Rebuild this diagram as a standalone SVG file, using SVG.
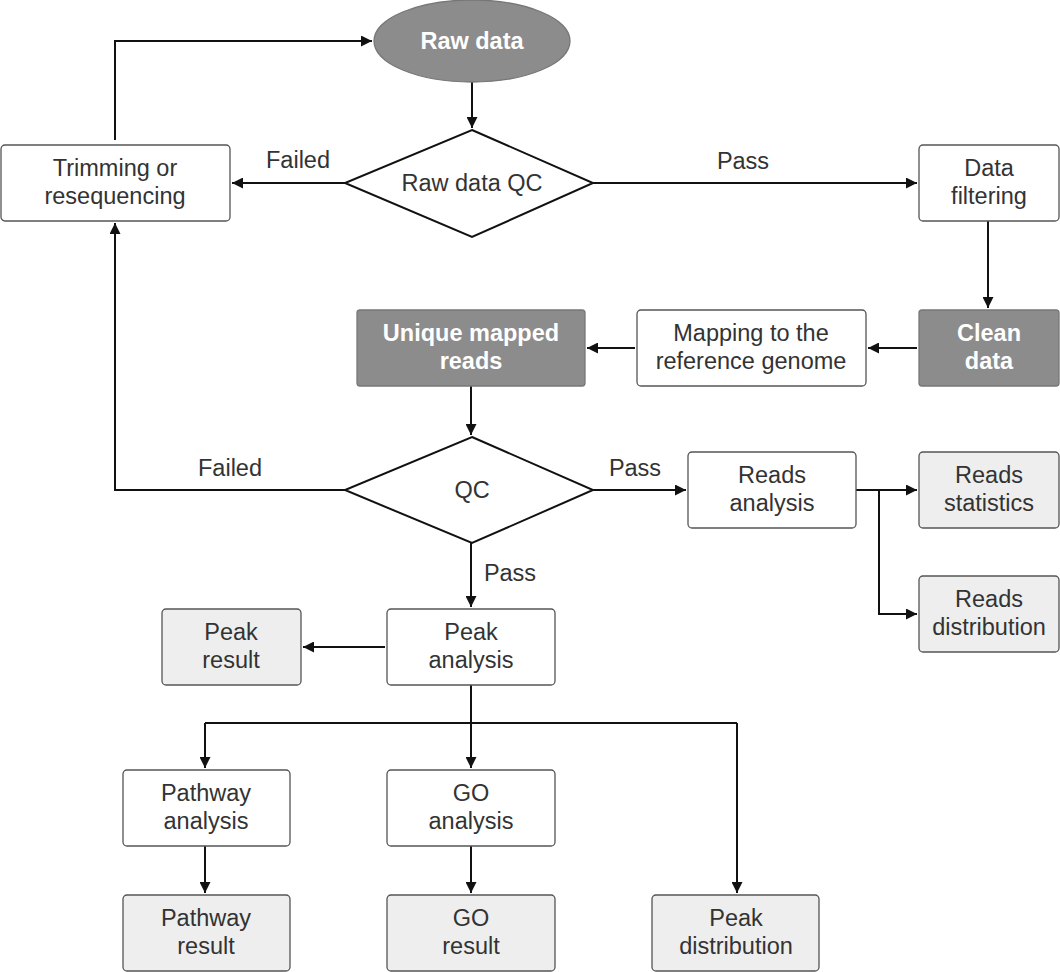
<svg xmlns="http://www.w3.org/2000/svg" width="1060" height="972" viewBox="0 0 1060 972">
<defs>
<marker id="a" viewBox="0 0 10 10" refX="10" refY="5" markerWidth="11" markerHeight="11" markerUnits="userSpaceOnUse" orient="auto"><path d="M0,0L10,5L0,10z" fill="#111"/></marker>
<style>
text{font-family:"Liberation Sans",Arial,sans-serif;font-size:23.5px;fill:#333;text-anchor:middle}
.b{fill:#fff;font-weight:bold}
.w{fill:#fff;stroke:#555;stroke-width:1.3}
.l{fill:#eee;stroke:#555;stroke-width:1.3}
.g{fill:#8c8c8c;stroke:#777;stroke-width:1.3}
.d{fill:#fff;stroke:#111;stroke-width:2}
#c path{fill:none;stroke:#111;stroke-width:2}
.m{marker-end:url(#a)}
</style>
</defs>
<rect width="1060" height="972" fill="#fff"/>
<g id="c">
<path class="m" d="M115,140V41H372"/>
<path class="m" d="M472,82V128"/>
<path class="m" d="M345,183H232"/>
<path class="m" d="M593,183H917"/>
<path class="m" d="M988,221V308"/>
<path class="m" d="M917,348H868"/>
<path class="m" d="M635,348H587"/>
<path class="m" d="M471,386V435"/>
<path class="m" d="M345,490H115V223"/>
<path class="m" d="M593,490H686"/>
<path class="m" d="M856,490H917"/>
<path class="m" d="M879,490V614H917"/>
<path class="m" d="M471,543V607"/>
<path class="m" d="M385,647H303"/>
<path d="M471,685V723M205,723H737"/>
<path class="m" d="M205,723V768"/>
<path class="m" d="M471,723V768"/>
<path class="m" d="M737,723V893"/>
<path class="m" d="M205,846V893"/>
<path class="m" d="M471,846V893"/>
<text x="298" y="168">Failed</text>
<text x="743" y="169">Pass</text>
<text x="230" y="476">Failed</text>
<text x="635" y="476">Pass</text>
<text x="510" y="581">Pass</text>
</g>
<g id="raw"><ellipse cx="472" cy="41" rx="98" ry="41" class="g"/><text x="472" y="49" class="b">Raw data</text></g>
<g id="rawqc"><path d="M472,130L593,183L472,237L345,183Z" class="d"/><text x="472" y="191">Raw data QC</text></g>
<g id="trim"><rect x="1" y="145" width="229" height="76" rx="4" class="w"/><text x="115" y="176">Trimming or</text><text x="115" y="204">resequencing</text></g>
<g id="filter"><rect x="919" y="145" width="140" height="76" rx="4" class="w"/><text x="989" y="176">Data</text><text x="989" y="204">filtering</text></g>
<g id="clean"><rect x="919" y="310" width="140" height="76" rx="3" class="g"/><text x="989" y="341" class="b">Clean</text><text x="989" y="369" class="b">data</text></g>
<g id="map"><rect x="637" y="310" width="229" height="76" rx="4" class="w"/><text x="751" y="341">Mapping to the</text><text x="751" y="369">reference genome</text></g>
<g id="uniq"><rect x="357" y="310" width="228" height="76" rx="3" class="g"/><text x="471" y="341" class="b">Unique mapped</text><text x="471" y="369" class="b">reads</text></g>
<g id="qc"><path d="M472,437L593,490L472,543L345,490Z" class="d"/><text x="472" y="498">QC</text></g>
<g id="ra"><rect x="688" y="452" width="168" height="76" rx="4" class="w"/><text x="772" y="483">Reads</text><text x="772" y="511">analysis</text></g>
<g id="rs"><rect x="919" y="452" width="140" height="76" rx="4" class="l"/><text x="989" y="483">Reads</text><text x="989" y="511">statistics</text></g>
<g id="rd"><rect x="919" y="576" width="140" height="76" rx="4" class="l"/><text x="989" y="607">Reads</text><text x="989" y="635">distribution</text></g>
<g id="pa"><rect x="387" y="609" width="168" height="76" rx="4" class="w"/><text x="471" y="640">Peak</text><text x="471" y="668">analysis</text></g>
<g id="pr"><rect x="162" y="609" width="139" height="76" rx="4" class="l"/><text x="231" y="640">Peak</text><text x="231" y="668">result</text></g>
<g id="pwa"><rect x="123" y="770" width="167" height="76" rx="4" class="w"/><text x="206" y="801">Pathway</text><text x="206" y="829">analysis</text></g>
<g id="goa"><rect x="387" y="770" width="168" height="76" rx="4" class="w"/><text x="471" y="801">GO</text><text x="471" y="829">analysis</text></g>
<g id="pwr"><rect x="123" y="895" width="167" height="76" rx="4" class="l"/><text x="206" y="926">Pathway</text><text x="206" y="954">result</text></g>
<g id="gor"><rect x="387" y="895" width="168" height="76" rx="4" class="l"/><text x="471" y="926">GO</text><text x="471" y="954">result</text></g>
<g id="pd"><rect x="652" y="895" width="167" height="76" rx="4" class="l"/><text x="736" y="926">Peak</text><text x="736" y="954">distribution</text></g>
</svg>
